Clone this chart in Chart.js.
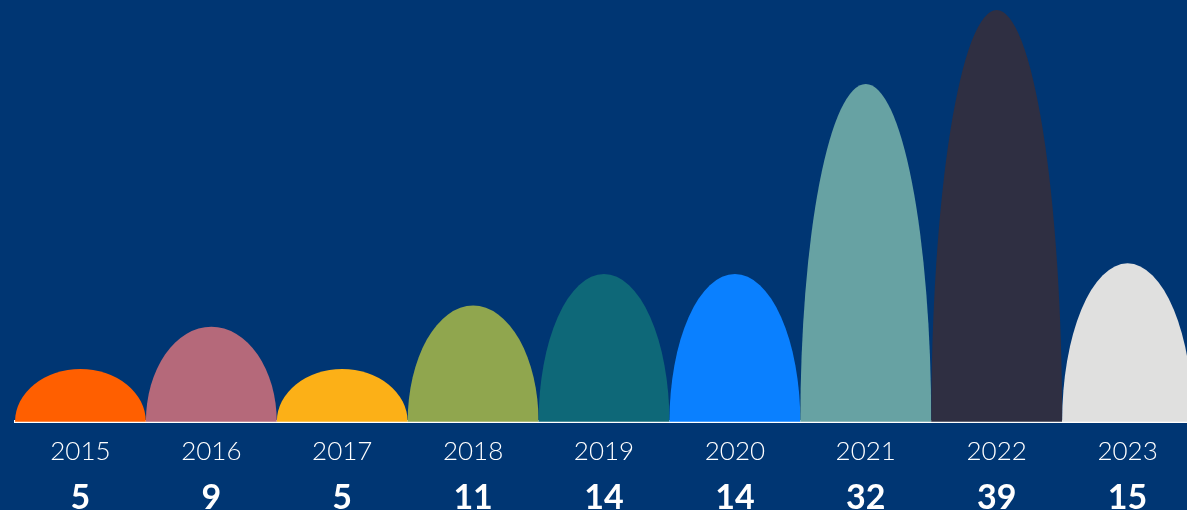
<!DOCTYPE html>
<html>
<head>
<meta charset="utf-8">
<script src="https://cdn.jsdelivr.net/npm/chart.js@4"></script>
<style>
  html, body { margin: 0; padding: 0; background: #003673; overflow: hidden; }
  canvas { display: block; }
</style>
</head>
<body>
<canvas id="chart1" width="1193" height="510"></canvas>
<script>
let years = ["2015", "2016", "2017", "2018", "2019", "2020", "2021", "2022", "2023"];
let counts = [5, 9, 5, 11, 14, 14, 32, 39, 15];
let countLabels = counts.map(String);
let archColors = ["#FF5F00", "#B5697A", "#FCB017", "#90A64E", "#0E6878", "#0A80FF", "#67A2A3", "#2F2F42", "#E0E0DF"];

// draw each bar as a half ellipse standing on the baseline
const archPlugin = {
  id: "arches",
  beforeDatasetDraw(chart, args) {
    const ctx = chart.ctx;
    const meta = args.meta;
    meta.data.forEach((bar, i) => {
      const p = bar.getProps(["x", "y", "base", "width"], true);
      ctx.save();
      ctx.fillStyle = archColors[i];
      ctx.beginPath();
      ctx.ellipse(p.x, p.base, p.width / 2, p.base - p.y, 0, Math.PI, 2 * Math.PI);
      ctx.closePath();
      ctx.fill();
      ctx.restore();
    });
    return false;
  }
};

new Chart("chart1", {
  type: "bar",
  data: {
    labels: years,
    datasets: [{
      data: counts,
      backgroundColor: archColors,
      categoryPercentage: 1,
      barPercentage: 1
    }]
  },
  options: {
    responsive: false,
    animation: false,
    layout: { padding: { left: 15, top: 10, right: 0, bottom: -4 } },
    plugins: { legend: { display: false }, tooltip: { enabled: false } },
    scales: {
      y: { display: false, min: 0, max: 39 },
      x: {
        z: 1,
        weight: 0,
        grid: { display: false, drawTicks: false },
        border: { color: "#ffffff", width: 3 },
        ticks: {
          color: "#ffffff",
          padding: 17,
          font: { family: "Lato", weight: 300, size: 26, lineHeight: 1 }
        }
      },
      x2: {
        type: "category",
        position: "bottom",
        labels: countLabels,
        offset: true,
        weight: 1,
        grid: { display: false, drawTicks: false },
        border: { display: false },
        ticks: {
          color: "#ffffff",
          padding: 0,
          font: { family: "Lato", weight: "bold", size: 34, lineHeight: 0.95 }
        }
      }
    }
  },
  plugins: [archPlugin]
});
</script>
</body>
</html>
